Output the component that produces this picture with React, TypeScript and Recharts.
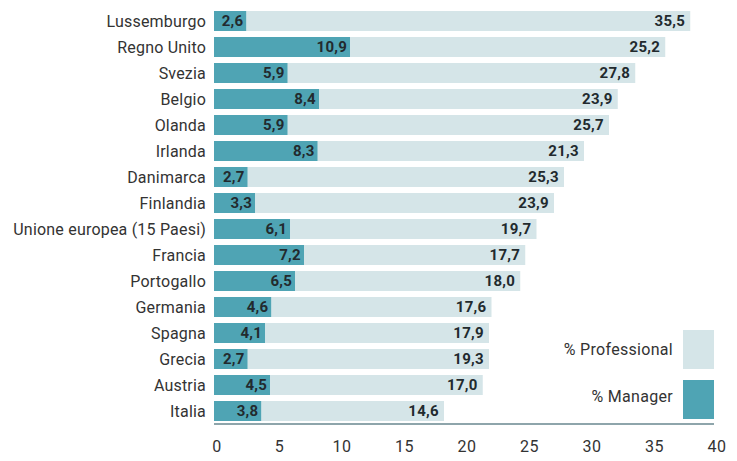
import React from 'react';
import { BarChart, Bar, XAxis, YAxis, LabelList } from 'recharts';

const countries = [
  'Lussemburgo', 'Regno Unito', 'Svezia', 'Belgio', 'Olanda', 'Irlanda', 'Danimarca', 'Finlandia',
  'Unione europea (15 Paesi)', 'Francia', 'Portogallo', 'Germania', 'Spagna', 'Grecia', 'Austria', 'Italia',
];
const manager = [2.6, 10.9, 5.9, 8.4, 5.9, 8.3, 2.7, 3.3, 6.1, 7.2, 6.5, 4.6, 4.1, 2.7, 4.5, 3.8];
const professional = [35.5, 25.2, 27.8, 23.9, 25.7, 21.3, 25.3, 23.9, 19.7, 17.7, 18.0, 17.6, 17.9, 19.3, 17.0, 14.6];
const xTicks = [0, 5, 10, 15, 20, 25, 30, 35, 40];
const seriesNames = ['% Professional', '% Manager'];

const MANAGER = '#4fa4b4';
const PROF = '#d5e5e8';
const TEXT = '#222a2e';
const FONT = 'Roboto, "DejaVu Sans", sans-serif';

const data = countries.map((name, i) => ({ name, manager: manager[i], professional: professional[i] }));

const fmt = (v: any) => Number(v).toFixed(1).replace('.', ',');

export default function App() {
  return (
    <div style={{ position: 'absolute', left: 0, top: 0, width: 737, height: 461, background: '#fff', fontFamily: FONT }}>
      <BarChart
        width={737}
        height={461}
        data={data}
        layout="vertical"
        margin={{ top: 8, right: 23, bottom: 0, left: 0 }}
        barCategoryGap={3}
      >
        <XAxis
          type="number"
          domain={[0, 40]}
          ticks={xTicks}
          axisLine={{ stroke: '#1f4d59', strokeWidth: 1.2 }}
          tickLine={false}
          tickMargin={11}
          height={37}
          tick={{ fill: '#333', fontSize: 16, fontFamily: FONT, letterSpacing: 0.5, dx: 3 }}
        />
        <YAxis
          type="category"
          dataKey="name"
          width={214}
          axisLine={false}
          tickLine={false}
          interval={0}
          tick={{ fill: '#333', fontSize: 16, fontFamily: FONT, letterSpacing: 0.2 }}
        />
        <Bar dataKey="manager" stackId="a" fill={MANAGER} barSize={20} isAnimationActive={false}>
          <LabelList dataKey="manager" position="insideRight" offset={3} formatter={fmt}
            style={{ fill: TEXT, fontSize: 15, fontWeight: 700, fontFamily: FONT, letterSpacing: 0.3 }} />
        </Bar>
        <Bar dataKey="professional" stackId="a" fill={PROF} barSize={20} isAnimationActive={false}>
          <LabelList dataKey="professional" position="insideRight" offset={5} formatter={fmt}
            style={{ fill: TEXT, fontSize: 15, fontWeight: 700, fontFamily: FONT, letterSpacing: 0.3 }} />
        </Bar>
      </BarChart>
      <div style={{ position: 'absolute', left: 500, top: 330, width: 214 }}>
        {seriesNames.map((s, i) => (
          <div key={s} style={{ display: 'flex', justifyContent: 'flex-end', alignItems: 'center', height: 39, marginBottom: i === 0 ? 11 : 0 }}>
            <span style={{ fontSize: 16, color: '#333', marginRight: 10, letterSpacing: 0.3, marginTop: i === 0 ? 0 : -6 }}>{s}</span>
            <span style={{ display: 'inline-block', width: 31, height: 39, background: i === 0 ? PROF : MANAGER }} />
          </div>
        ))}
      </div>
    </div>
  );
}
